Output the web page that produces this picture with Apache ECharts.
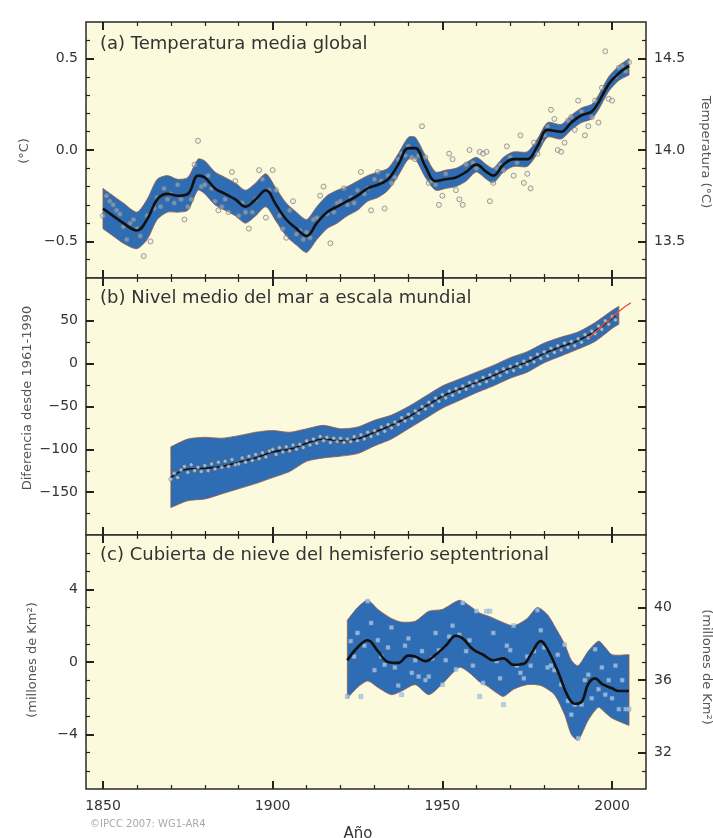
<!DOCTYPE html>
<html>
<head>
<meta charset="utf-8">
<script src="https://cdn.jsdelivr.net/npm/echarts@6/dist/echarts.min.js"></script>
<style>html,body{margin:0;padding:0;background:#fff}#chart{width:713px;height:838px}</style>
</head>
<body>
<div id="chart"></div>
<script>
// ---------- DATA ----------
const X_MAJOR = [1850, 1900, 1950, 2000];
const X_MINOR = [1860, 1870, 1880, 1890, 1910, 1920, 1930, 1940, 1960, 1970, 1980, 1990];

// (a) temperature anomaly (°C), annual 1850-2005
const tempStart = 1850;
const tempPoints = [
 -0.36,-0.25,-0.28,-0.30,-0.33,-0.35,-0.42,-0.49,-0.40,-0.38,
 -0.43,-0.47,-0.58,-0.36,-0.50,-0.32,-0.26,-0.31,-0.21,-0.27,
 -0.24,-0.29,-0.19,-0.27,-0.38,-0.31,-0.27,-0.08,0.05,-0.20,
 -0.19,-0.14,-0.21,-0.28,-0.33,-0.31,-0.27,-0.34,-0.12,-0.17,
 -0.36,-0.29,-0.34,-0.43,-0.34,-0.27,-0.11,-0.16,-0.37,-0.22,
 -0.11,-0.22,-0.36,-0.43,-0.48,-0.33,-0.28,-0.46,-0.44,-0.49,
 -0.45,-0.48,-0.38,-0.37,-0.25,-0.20,-0.35,-0.51,-0.34,-0.29,
 -0.28,-0.21,-0.30,-0.26,-0.29,-0.22,-0.12,-0.24,-0.21,-0.33,
 -0.16,-0.12,-0.17,-0.32,-0.14,-0.18,-0.15,-0.05,-0.02,-0.03,
 0.02,-0.04,-0.05,-0.03,0.13,-0.04,-0.18,-0.17,-0.19,-0.30,
 -0.25,-0.13,-0.02,-0.05,-0.22,-0.27,-0.30,-0.08,0.00,-0.07,
 -0.10,-0.01,-0.02,-0.01,-0.28,-0.18,-0.10,-0.08,-0.11,0.02,
 -0.04,-0.14,-0.07,0.08,-0.18,-0.13,-0.21,0.04,-0.02,0.05,
 0.08,0.13,0.22,0.17,0.00,-0.01,0.04,0.16,0.18,0.11,
 0.27,0.21,0.08,0.13,0.18,0.27,0.15,0.34,0.54,0.28,
 0.27,0.40,0.45,0.46,0.43,0.48
];
const tempSmooth = [
 [1850,-0.32],[1853,-0.36],[1856,-0.40],[1860,-0.44],[1863,-0.38],[1866,-0.27],[1869,-0.24],
 [1872,-0.25],[1875,-0.24],[1878,-0.14],[1880,-0.15],[1883,-0.21],[1886,-0.24],[1889,-0.27],
 [1892,-0.31],[1895,-0.27],[1898,-0.22],[1901,-0.30],[1904,-0.38],[1907,-0.43],[1910,-0.47],
 [1913,-0.40],[1916,-0.34],[1919,-0.31],[1922,-0.28],[1925,-0.25],[1928,-0.21],[1931,-0.19],
 [1934,-0.16],[1937,-0.08],[1940,0.01],[1942,0.01],[1945,-0.09],[1948,-0.17],[1951,-0.16],
 [1954,-0.15],[1957,-0.12],[1960,-0.08],[1963,-0.12],[1965,-0.14],[1968,-0.08],[1971,-0.05],
 [1975,-0.05],[1978,0.02],[1981,0.11],[1985,0.10],[1988,0.15],[1991,0.19],[1994,0.21],
 [1996,0.26],[1999,0.36],[2002,0.42],[2005,0.46]
];
const tempBandHi = [
 [1850,-0.21],[1853,-0.25],[1856,-0.29],[1860,-0.34],[1863,-0.27],[1866,-0.16],[1869,-0.14],
 [1872,-0.16],[1875,-0.15],[1878,-0.05],[1880,-0.06],[1883,-0.12],[1886,-0.15],[1889,-0.18],
 [1892,-0.22],[1895,-0.18],[1898,-0.13],[1901,-0.21],[1904,-0.29],[1907,-0.34],[1910,-0.38],
 [1913,-0.31],[1916,-0.25],[1919,-0.22],[1922,-0.20],[1925,-0.17],[1928,-0.14],[1931,-0.12],
 [1934,-0.10],[1937,-0.02],[1940,0.07],[1942,0.07],[1945,-0.03],[1948,-0.12],[1951,-0.11],
 [1954,-0.10],[1957,-0.07],[1960,-0.04],[1963,-0.08],[1965,-0.10],[1968,-0.04],[1971,-0.01],
 [1975,-0.01],[1978,0.06],[1981,0.15],[1985,0.14],[1988,0.19],[1991,0.23],[1994,0.25],
 [1996,0.30],[1999,0.40],[2002,0.46],[2005,0.50]
];
const tempBandLo = [
 [1850,-0.43],[1853,-0.47],[1856,-0.51],[1860,-0.54],[1863,-0.49],[1866,-0.38],[1869,-0.34],
 [1872,-0.34],[1875,-0.33],[1878,-0.22],[1880,-0.24],[1883,-0.30],[1886,-0.33],[1889,-0.36],
 [1892,-0.40],[1895,-0.36],[1898,-0.31],[1901,-0.39],[1904,-0.47],[1907,-0.52],[1910,-0.56],
 [1913,-0.49],[1916,-0.43],[1919,-0.40],[1922,-0.36],[1925,-0.33],[1928,-0.28],[1931,-0.26],
 [1934,-0.22],[1937,-0.14],[1940,-0.05],[1942,-0.05],[1945,-0.15],[1948,-0.22],[1951,-0.21],
 [1954,-0.20],[1957,-0.17],[1960,-0.12],[1963,-0.16],[1965,-0.18],[1968,-0.12],[1971,-0.09],
 [1975,-0.09],[1978,-0.02],[1981,0.07],[1985,0.06],[1988,0.11],[1991,0.15],[1994,0.17],
 [1996,0.22],[1999,0.32],[2002,0.38],[2005,0.41]
];

// (b) sea level (mm, relative to 1961-1990), annual 1870-2001
const seaStart = 1870;
const seaPoints = [
 -135,-128,-133,-124,-120,-127,-118,-125,-121,-126,
 -119,-125,-117,-123,-115,-121,-114,-120,-112,-118,
 -117,-110,-115,-108,-113,-106,-111,-104,-109,-102,
 -100,-106,-98,-103,-97,-102,-95,-100,-94,-98,
 -90,-95,-88,-93,-85,-90,-86,-92,-87,-91,
 -87,-92,-88,-91,-85,-90,-83,-88,-80,-85,
 -78,-82,-74,-79,-71,-75,-68,-71,-63,-67,
 -59,-64,-55,-58,-50,-53,-45,-49,-40,-44,
 -36,-40,-32,-37,-29,-33,-26,-30,-22,-26,
 -20,-24,-16,-21,-13,-17,-9,-14,-6,-10,
 -3,-8,0,-4,3,-1,7,2,11,6,
 14,9,18,13,21,16,24,19,26,21,
 29,25,34,30,38,35,44,40,50,46,
 55,51
];
const seaSmooth = [
 [1870,-133],[1875,-123],[1880,-122],[1885,-120],[1890,-115],[1895,-110],[1900,-103],
 [1905,-100],[1910,-93],[1915,-88],[1920,-90],[1925,-88],[1930,-80],[1935,-72],[1940,-62],
 [1945,-50],[1950,-38],[1955,-30],[1960,-22],[1965,-14],[1970,-5],[1975,2],[1980,12],
 [1985,20],[1990,27],[1995,38],[2000,53],[2001,56]
];
const seaBandHi = [
 [1870,-97],[1875,-88],[1880,-86],[1885,-87],[1890,-84],[1895,-80],[1900,-78],[1905,-80],
 [1910,-76],[1915,-72],[1920,-76],[1925,-74],[1930,-66],[1935,-60],[1940,-50],[1945,-38],
 [1950,-26],[1955,-18],[1960,-10],[1965,-2],[1970,7],[1975,14],[1980,24],[1985,31],
 [1990,37],[1995,48],[2000,62],[2002,67]
];
const seaBandLo = [
 [1870,-168],[1875,-160],[1880,-158],[1885,-152],[1890,-146],[1895,-140],[1900,-133],[1905,-126],
 [1910,-114],[1915,-110],[1920,-108],[1925,-105],[1930,-96],[1935,-88],[1940,-76],[1945,-64],
 [1950,-52],[1955,-43],[1960,-34],[1965,-26],[1970,-17],[1975,-10],[1980,1],[1985,9],
 [1990,17],[1995,26],[2000,41],[2002,46]
];
const seaSatellite = [
 [1993,30],[1994,33],[1995,37],[1996,40],[1997,44],[1998,48],[1999,50],
 [2000,54],[2001,58],[2002,61],[2003,64],[2004,67],[2005.5,71]
];

// (c) NH snow cover anomaly (million km²), annual 1922-2005
const snowStart = 1922;
const snowPoints = [
 -1.9,1.15,0.3,1.6,-1.9,0.9,3.35,2.15,-0.45,1.2,
 0.3,-0.15,0.8,1.9,-0.3,-1.3,-1.8,0.9,1.3,-0.6,
 0.1,-0.8,0.6,-1.0,-0.8,0.2,1.6,0.65,-1.25,0.1,
 1.4,2.0,-0.4,1.5,3.25,0.6,1.2,-0.2,2.8,-1.9,
 -1.15,2.8,2.8,1.6,0.05,-0.9,-2.35,0.9,0.65,2.0,
 -0.2,-0.6,-0.9,0.3,-0.2,0.6,2.85,1.75,0.8,-0.3,
 -0.2,-0.45,0.4,-1.25,0.95,-2.15,-2.9,-2.35,-4.2,-2.35,
 -1.0,-0.7,-2.0,0.7,-1.5,-0.3,-1.8,-1.0,-2.0,-0.2,
 -2.6,-1.0,-2.6,-2.6
];
const snowSmooth = [
 [1922,0.1],[1925,0.8],[1928,1.2],[1931,0.6],[1934,0.0],[1937,-0.05],[1940,0.35],[1942,0.3],
 [1945,0.05],[1948,0.4],[1951,0.9],[1954,1.45],[1956,1.3],[1959,0.7],[1962,0.4],[1965,0.1],
 [1968,0.2],[1971,-0.15],[1974,-0.1],[1976,0.4],[1979,1.15],[1981,0.7],[1984,-0.5],[1987,-1.9],
 [1989,-2.3],[1991,-2.2],[1993,-1.2],[1995,-0.9],[1997,-1.2],[2000,-1.45],[2002,-1.6],[2005,-1.6]
];
const snowBandHi = [
 [1922,2.3],[1925,3.0],[1928,3.4],[1931,2.9],[1935,2.4],[1938,2.2],[1942,2.25],[1946,2.8],
 [1950,2.9],[1955,3.4],[1958,3.1],[1961,2.7],[1964,2.5],[1967,2.25],[1971,2.0],[1975,2.4],
 [1978,3.0],[1981,2.6],[1983,2.0],[1986,1.0],[1988,0.1],[1990,-0.2],[1993,0.6],[1996,1.15],
 [1998,0.8],[2000,0.4],[2005,0.4]
];
const snowBandLo = [
 [1922,-2.0],[1925,-1.4],[1928,-1.05],[1931,-1.4],[1935,-1.8],[1938,-1.6],[1942,-1.25],[1946,-1.8],
 [1950,-1.2],[1955,-0.3],[1958,-0.6],[1961,-1.1],[1963,-1.3],[1966,-1.7],[1968,-1.9],[1971,-1.5],
 [1975,-1.25],[1979,-1.3],[1983,-1.8],[1986,-2.9],[1988,-4.0],[1990,-4.3],[1993,-3.2],[1996,-2.5],
 [1998,-2.8],[2000,-3.1],[2005,-3.5]
];

// tick values
const A_MAJ = [-0.5, 0, 0.5];
const A_MIN = [-0.6,-0.4,-0.3,-0.2,-0.1,0.1,0.2,0.3,0.4,0.6];
const A_R_MAJ = [13.5, 14.0, 14.5];
const A_R_MIN = [13.4,13.6,13.7,13.8,13.9,14.1,14.2,14.3,14.4,14.6];
const B_MAJ = [-150,-100,-50,0,50];
const B_MIN = [-175,-125,-75,-25,25,75];
const C_MAJ = [-4, 0, 4];
const C_MIN = [-6,-5,-3,-2,-1,1,2,3,5,6];
const C_R_MAJ = [32, 36, 40];
const C_R_MIN = [31,33,34,35,37,38,39,41,42,43];

// ---------- CHART ----------
const FONT = 'DejaVu Sans';
const BLUE = '#2e6db3';
const EDGE = '#9a5a46';
const BG = '#fbfadc';
const chart = echarts.init(document.getElementById('chart'), null, {renderer: 'canvas'});

const grids = [
  {left: 86, top: 22, width: 560, height: 256},
  {left: 86, top: 278, width: 560, height: 257},
  {left: 86, top: 535, width: 560, height: 254}
].map(g => Object.assign(g, {show: true, backgroundColor: BG, borderColor: '#2a2a2a', borderWidth: 1.5, containLabel: false, outerBoundsMode: 'none'}));

const minus = s => String(s).replace('-', '\u2212');

const xAxes = [];
const yAxes = [];
function addX(gi, pos, vals, len, w, showLabel) {
  xAxes.push({
    type: 'value', gridIndex: gi, min: 1845, max: 2010, position: pos,
    axisLine: {show: false, onZero: false}, splitLine: {show: false},
    axisTick: {show: true, inside: true, length: len, customValues: vals, lineStyle: {color: '#222', width: w}},
    axisLabel: showLabel ? {show: true, customValues: vals, margin: 10, color: '#333', fontFamily: FONT, fontSize: 14, formatter: v => String(v)} : {show: false}
  });
  return xAxes.length - 1;
}
function addY(gi, pos, min, max, vals, len, w, fmt) {
  yAxes.push({
    type: 'value', gridIndex: gi, min: min, max: max, position: pos,
    axisLine: {show: false, onZero: false}, splitLine: {show: false},
    axisTick: {show: true, inside: true, length: len, customValues: vals, lineStyle: {color: '#222', width: w}},
    axisLabel: fmt ? {show: true, customValues: vals, margin: 8, color: '#333', fontFamily: FONT, fontSize: 14, formatter: fmt} : {show: false}
  });
  return yAxes.length - 1;
}

const panels = [];
// panel a
(function(){
  const xi = addX(0, 'bottom', X_MAJOR, 8, 2, false);
  addX(0, 'bottom', X_MINOR, 4, 1.2, false);
  addX(0, 'top', X_MAJOR, 8, 2, false);
  addX(0, 'top', X_MINOR, 4, 1.2, false);
  const yi = addY(0, 'left', -0.7, 0.7, A_MAJ, 8, 2, v => minus(Number(v).toFixed(1)));
  addY(0, 'left', -0.7, 0.7, A_MIN, 4, 1.2, null);
  addY(0, 'right', 13.3, 14.7, A_R_MAJ, 8, 2, v => Number(v).toFixed(1));
  addY(0, 'right', 13.3, 14.7, A_R_MIN, 4, 1.2, null);
  panels.push({xi, yi});
})();
// panel b
(function(){
  const xi = addX(1, 'bottom', X_MAJOR, 8, 2, false);
  addX(1, 'bottom', X_MINOR, 4, 1.2, false);
  addX(1, 'top', X_MAJOR, 8, 2, false);
  addX(1, 'top', X_MINOR, 4, 1.2, false);
  const yi = addY(1, 'left', -200, 100, B_MAJ, 8, 2, v => minus(v));
  addY(1, 'left', -200, 100, B_MIN, 4, 1.2, null);
  addY(1, 'right', -200, 100, B_MAJ, 8, 2, null);
  addY(1, 'right', -200, 100, B_MIN, 4, 1.2, null);
  panels.push({xi, yi});
})();
// panel c
(function(){
  const xi = addX(2, 'bottom', X_MAJOR, 8, 2, true);
  addX(2, 'bottom', X_MINOR, 4, 1.2, false);
  addX(2, 'top', X_MAJOR, 8, 2, false);
  addX(2, 'top', X_MINOR, 4, 1.2, false);
  const yi = addY(2, 'left', -7, 7, C_MAJ, 8, 2, v => minus(v));
  addY(2, 'left', -7, 7, C_MIN, 4, 1.2, null);
  addY(2, 'right', 30, 44, C_R_MAJ, 8, 2, v => String(v));
  addY(2, 'right', 30, 44, C_R_MIN, 4, 1.2, null);
  panels.push({xi, yi});
})();

function band(p, hi, lo) {
  return {
    type: 'custom', xAxisIndex: p.xi, yAxisIndex: p.yi, silent: true, z: 1,
    data: [hi[0]],
    renderItem: function(params, api) {
      const top = hi.map(q => api.coord(q));
      const bot = lo.slice().reverse().map(q => api.coord(q));
      // repeat end vertices so the band keeps square ends while edges stay smooth
      const pts = [top[0]].concat(top, [top[top.length - 1]], [bot[0]], bot, [bot[bot.length - 1]]);
      return {type: 'polygon', shape: {points: pts, smooth: 0.25},
              style: {fill: BLUE, stroke: EDGE, lineWidth: 0.8}};
    }
  };
}
function smoothLine(p, data, w, z) {
  return {type: 'line', xAxisIndex: p.xi, yAxisIndex: p.yi, data: data, smooth: 0.4,
          showSymbol: false, silent: true, z: z, lineStyle: {color: '#111', width: w}};
}
function pts(p, start, vals, sym, size, style, z) {
  return {type: 'scatter', xAxisIndex: p.xi, yAxisIndex: p.yi, silent: true, z: z,
          data: vals.map((v, i) => [start + i, v]), symbol: sym, symbolSize: size, itemStyle: style};
}

const series = [
  band(panels[0], tempBandHi, tempBandLo),
  pts(panels[0], tempStart, tempPoints, 'circle', 5, {color: 'rgba(225,228,225,0.45)', borderColor: '#6b6b6b', borderWidth: 0.8}, 2),
  smoothLine(panels[0], tempSmooth, 2.6, 3),

  band(panels[1], seaBandHi, seaBandLo),
  smoothLine(panels[1], seaSmooth, 1.6, 2),
  pts(panels[1], seaStart, seaPoints, 'circle', 4, {color: 'rgba(215,222,230,0.85)', borderColor: '#4d4d4d', borderWidth: 0.6}, 3),
  {type: 'line', xAxisIndex: panels[1].xi, yAxisIndex: panels[1].yi, data: seaSatellite, showSymbol: false,
   silent: true, z: 4, lineStyle: {color: '#e8533f', width: 1.3}},

  band(panels[2], snowBandHi, snowBandLo),
  pts(panels[2], snowStart, snowPoints, 'rect', 4, {color: '#a9c7ea', borderColor: '#7d9cc4', borderWidth: 0.5}, 2),
  smoothLine(panels[2], snowSmooth, 2.6, 3)
];

const txt = (x, y, text, o) => Object.assign({type: 'text', x: x, y: y, z: 100, silent: true,
  style: Object.assign({text: text, fontFamily: FONT, fontSize: 13, fill: '#555', align: 'center', verticalAlign: 'middle'}, o && o.style || {})},
  o && o.rotation !== undefined ? {rotation: o.rotation} : {});

const graphic = [
  txt(100, 44, '(a) Temperatura media global', {style: {fontSize: 18, fill: '#333', align: 'left'}}),
  txt(100, 298, '(b) Nivel medio del mar a escala mundial', {style: {fontSize: 18, fill: '#333', align: 'left'}}),
  txt(100, 555, '(c) Cubierta de nieve del hemisferio septentrional', {style: {fontSize: 18, fill: '#333', align: 'left'}}),
  txt(25, 151, '(°C)', {rotation: Math.PI / 2}),
  txt(705, 152, 'Temperatura (°C)', {rotation: -Math.PI / 2}),
  txt(28, 398, 'Diferencia desde 1961-1990', {rotation: Math.PI / 2}),
  txt(33, 660, '(millones de Km²)', {rotation: Math.PI / 2}),
  txt(706, 667, '(millones de Km²)', {rotation: -Math.PI / 2}),
  txt(358, 834, 'Año', {style: {fontSize: 15, fill: '#333'}}),
  txt(90, 824, '©IPCC 2007: WG1-AR4', {style: {fontSize: 10, fill: '#aaa', align: 'left'}})
];

chart.setOption({
  backgroundColor: '#ffffff',
  animation: false,
  textStyle: {fontFamily: FONT},
  grid: grids,
  xAxis: xAxes,
  yAxis: yAxes,
  series: series,
  graphic: graphic
});
</script>
</body>
</html>
